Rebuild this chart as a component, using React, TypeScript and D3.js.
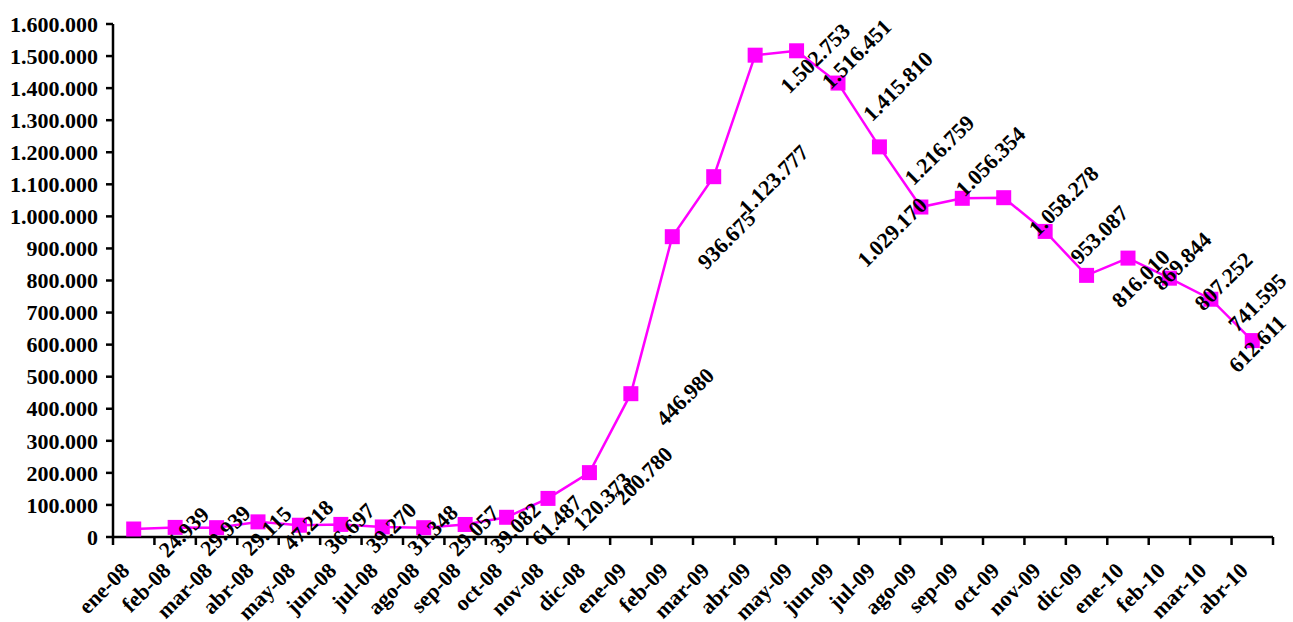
import React from "react";
import * as d3 from "d3";

const categories: string[] = [
  "ene-08", "feb-08", "mar-08", "abr-08", "may-08", "jun-08", "jul-08", "ago-08", "sep-08", "oct-08", "nov-08", "dic-08",
  "ene-09", "feb-09", "mar-09", "abr-09", "may-09", "jun-09", "jul-09", "ago-09", "sep-09", "oct-09", "nov-09", "dic-09",
  "ene-10", "feb-10", "mar-10", "abr-10",
];

const values: number[] = [
  24939, 29939, 29115, 47218, 36697, 39270, 31348, 29057, 39082, 61487, 120373, 200780,
  446980, 936675, 1123777, 1502753, 1516451, 1415810, 1216759, 1029170, 1056354, 1058278, 953087, 816010,
  869844, 807252, 741595, 612611,
];

const yTicks: number[] = [0, 100000, 200000, 300000, 400000, 500000, 600000, 700000, 800000, 900000, 1000000, 1100000, 1200000, 1300000, 1400000, 1500000, 1600000];

// layout-only nudges for labels that were moved by hand in the original
const labelNudges: Record<string, [number, number]> = {
  "ago-09": [-29, 25],
  "sep-09": [28, -37],
};

const W = 1293;
const H = 622;
const left = 113;
const right = 1273;
const top = 24;
const bottom = 537;
const FS = 22;
const FONT = "'Liberation Serif', 'Times New Roman', serif";
const MAGENTA = "#FF00FF";

const locale = d3.formatLocale({ decimal: ",", thousands: ".", grouping: [3], currency: ["", ""] });
const fmt = locale.format(",d");

function textLen(s: string): number {
  let w = 0;
  for (const c of s) w += c === "." ? 0.25 : 0.5;
  return w * FS;
}

export default function App() {
  const x = d3.scaleBand<string>().domain(categories).range([left, right]).padding(0);
  const y = d3.scaleLinear().domain([0, 1600000]).range([bottom, top]);
  const cx = (c: string) => (x(c) as number) + x.bandwidth() / 2;

  const line = d3
    .line<number>()
    .x((_, i) => cx(categories[i]))
    .y((d) => y(d));

  const boundaries = d3.range(categories.length + 1).map((i) => left + i * x.bandwidth());
  const ms = 15;

  return (
    <svg width={W} height={H} style={{ position: "absolute", left: 0, top: 0, background: "#fff" }} fontFamily={FONT}>
      <rect x={0} y={0} width={W} height={H} fill="#fff" />
      {/* y axis */}
      <line x1={left} x2={left} y1={top} y2={bottom} stroke="#000" strokeWidth={2.5} />
      {yTicks.map((t) => (
        <g key={t}>
          <line x1={left - 7} x2={left} y1={y(t)} y2={y(t)} stroke="#000" strokeWidth={2.5} />
          <text x={98} y={y(t)} dy="0.35em" textAnchor="end" fontSize={FS} fontWeight="bold" fill="#000">
            {fmt(t)}
          </text>
        </g>
      ))}
      {/* x axis */}
      <line x1={left} x2={right} y1={bottom} y2={bottom} stroke="#000" strokeWidth={2.5} />
      {boundaries.map((b, i) => (
        <line key={i} x1={b} x2={b} y1={bottom} y2={bottom + 8} stroke="#000" strokeWidth={2.5} />
      ))}
      {categories.map((c) => (
        <text
          key={c}
          transform={`translate(${cx(c) - 3},${bottom + 35}) rotate(-45)`}
          textAnchor="end"
          fontSize={FS}
          fontWeight="bold"
          fill="#000"
        >
          {c}
        </text>
      ))}
      {/* series */}
      <path d={line(values) || ""} fill="none" stroke={MAGENTA} strokeWidth={2.5} />
      {values.map((v, i) => (
        <rect key={i} x={cx(categories[i]) - ms / 2} y={y(v) - ms / 2} width={ms} height={ms} fill={MAGENTA} />
      ))}
      {/* data labels */}
      {values.map((v, i) => {
        const c = categories[i];
        const s = fmt(v);
        const L = textLen(s);
        const half = ((L + 16) * 0.7071) / 2;
        let lx = cx(c) + 23 + half;
        let ly = y(v) + 3;
        const n = labelNudges[c];
        if (n) {
          lx = cx(c) + n[0];
          ly = y(v) + n[1];
        }
        if (lx + half > 1288) lx = 1288 - half;
        return (
          <text
            key={c}
            transform={`translate(${lx},${ly}) rotate(-45)`}
            textAnchor="middle"
            dy="0.35em"
            fontSize={FS}
            fontWeight="bold"
            fill="#000"
          >
            {s}
          </text>
        );
      })}
    </svg>
  );
}
